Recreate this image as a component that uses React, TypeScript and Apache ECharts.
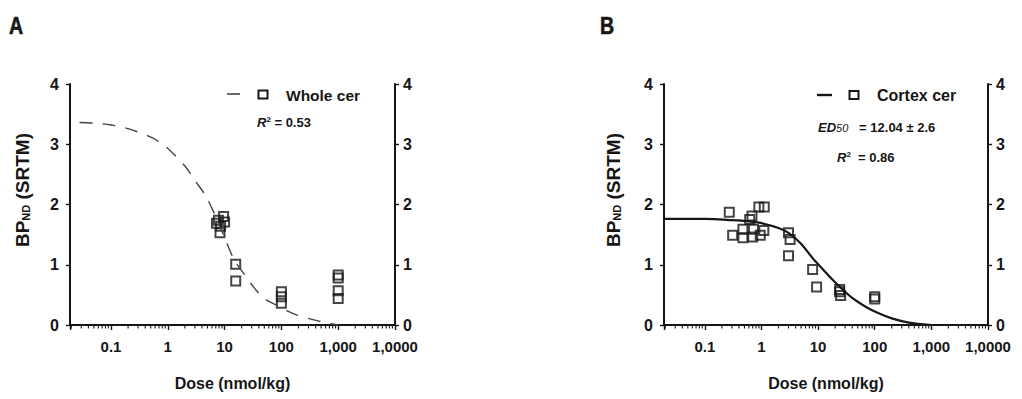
import React, { useEffect, useRef } from "react";
import * as echarts from "echarts";

// ---------- data ----------
const xTickValues = [0.1, 1, 10, 100, 1000, 10000];
const xTickLabels = ["0.1", "1", "10", "100", "1,000", "1,0000"];
const yTickMin = 0;
const yTickMax = 4;

const minorTickDoses = [
  0.02, 0.03, 0.04, 0.05, 0.06, 0.07, 0.08, 0.09,
  0.2, 0.3, 0.4, 0.5, 0.6, 0.7, 0.8, 0.9,
  2, 3, 4, 5, 6, 7, 8, 9,
  20, 30, 40, 50, 60, 70, 80, 90,
  200, 300, 400, 500, 600, 700, 800, 900,
  2000, 3000, 4000, 5000, 6000, 7000, 8000, 9000,
];

// Panel A: Whole cer
const wholeDose = [7.2, 7.8, 8.5, 8.3, 9.6, 10, 15.7, 15.7, 100, 100, 100, 1000, 1000, 1000, 1000];
const wholeBP = [1.69, 1.74, 1.64, 1.53, 1.8, 1.71, 1.01, 0.73, 0.55, 0.47, 0.36, 0.83, 0.78, 0.57, 0.44];
const wholeFitDose = [0.028, 0.05, 0.1, 0.2, 0.55, 1, 2, 3, 4.6, 7, 10, 15, 22, 33, 50, 90, 170, 390, 750, 1000];
const wholeFitBP = [3.36, 3.35, 3.32, 3.26, 3.1, 2.93, 2.64, 2.4, 2.15, 1.8, 1.45, 1.07, 0.85, 0.62, 0.44, 0.31, 0.18, 0.08, 0.02, 0];

// Panel B: Cortex cer
const cortexDose = [0.27, 0.31, 0.47, 0.47, 0.62, 0.68, 0.72, 0.7, 0.9, 1.12, 0.95, 1.1, 3.0, 3.2, 3.0, 8.0, 9.4, 24, 24, 25, 100, 100];
const cortexBP = [1.87, 1.49, 1.59, 1.45, 1.75, 1.81, 1.59, 1.46, 1.96, 1.96, 1.49, 1.57, 1.53, 1.42, 1.15, 0.92, 0.63, 0.59, 0.55, 0.49, 0.47, 0.43];
const cortexFitDose = [0.019, 0.1, 0.3, 0.6, 1, 2, 3, 5, 8, 12, 16, 25, 40, 70, 120, 200, 400, 1000];
const cortexFitBP = [1.76, 1.76, 1.74, 1.72, 1.69, 1.61, 1.53, 1.35, 1.11, 0.93, 0.8, 0.62, 0.45, 0.3, 0.19, 0.11, 0.04, 0];

const xMin = 0.019;
const xMax = 10000;

const FONT = "'Liberation Sans', Arial, Helvetica, sans-serif";
const INK = "#161616";

const zip = (a: number[], b: number[]) => a.map((v, i) => [v, b[i]]);

function xLabel(v: number) {
  const i = xTickValues.findIndex((t) => Math.abs(Math.log10(v) - Math.log10(t)) < 1e-6);
  return i >= 0 ? xTickLabels[i] : "";
}

function makeXAxis(gridIndex: number) {
  return {
    type: "log",
    logBase: 10,
    gridIndex,
    min: xMin,
    max: xMax,
    name: "Dose (nmol/kg)",
    nameLocation: "middle",
    nameGap: 50,
    nameTextStyle: { fontFamily: FONT, fontWeight: "bold", fontSize: 16, color: INK },
    axisLine: { show: true, onZero: false, lineStyle: { color: INK, width: 2 } },
    axisTick: { show: true, inside: false, length: 5, lineStyle: { color: INK, width: 1.4 } },
    axisLabel: {
      show: true,
      margin: 14,
      fontFamily: FONT,
      fontWeight: "bold",
      fontSize: 15,
      color: INK,
      formatter: xLabel,
      showMinLabel: true,
      showMaxLabel: true,
    },
    splitLine: { show: false },
    minorTick: { show: false },
  };
}

function makeYAxis(gridIndex: number, position: "left" | "right") {
  return {
    type: "value",
    gridIndex,
    position,
    min: yTickMin,
    max: yTickMax,
    interval: 1,
    axisLine: { show: true, onZero: false, lineStyle: { color: INK, width: 2 } },
    axisTick: { show: true, inside: false, length: 4, lineStyle: { color: INK, width: 1.4 } },
    axisLabel: {
      show: true,
      margin: position === "left" ? 11 : 8,
      fontFamily: FONT,
      fontWeight: "bold",
      fontSize: 16,
      color: INK,
    },
    splitLine: { show: false },
  };
}

function minorTickSeries(xAxisIndex: number, yAxisIndex: number) {
  return {
    type: "custom",
    xAxisIndex,
    yAxisIndex,
    silent: true,
    clip: false,
    data: minorTickDoses.map((d) => [d, 0]),
    renderItem: (params: any, api: any) => {
      const p = api.coord([api.value(0), api.value(1)]);
      return {
        type: "line",
        shape: { x1: p[0], y1: p[1], x2: p[0], y2: p[1] + 3.5 },
        style: { stroke: INK, lineWidth: 1.1 },
      };
    },
  };
}

const squareStyle = {
  color: "rgba(0,0,0,0)",
  borderColor: INK,
  borderWidth: 2,
};

export default function App() {
  const ref = useRef<HTMLDivElement>(null);

  useEffect(() => {
    if (!ref.current) return;
    const chart = echarts.init(ref.current, null, { renderer: "svg" });

    const yNameRich = {
      a: { fontFamily: FONT, fontWeight: "bold", fontSize: 19, fill: INK },
      s: { fontFamily: FONT, fontWeight: "bold", fontSize: 11, fill: INK, verticalAlign: "bottom" },
    };

    const option: any = {
      animation: false,
      backgroundColor: "#ffffff",
      grid: [
        { left: 70, right: 627, top: 84, bottom: 74, containLabel: false },
        { left: 664, right: 34, top: 84, bottom: 74, containLabel: false },
      ],
      xAxis: [makeXAxis(0), makeXAxis(1)],
      yAxis: [makeYAxis(0, "left"), makeYAxis(0, "right"), makeYAxis(1, "left"), makeYAxis(1, "right")],
      series: [
        {
          name: "Whole cer fit",
          type: "line",
          xAxisIndex: 0,
          yAxisIndex: 0,
          data: zip(wholeFitDose, wholeFitBP),
          smooth: 0.3,
          showSymbol: false,
          symbol: "none",
          silent: true,
          lineStyle: { color: "#444", width: 1.4, type: [13, 10] },
        },
        {
          name: "Whole cer",
          type: "scatter",
          xAxisIndex: 0,
          yAxisIndex: 0,
          symbol: "rect",
          symbolSize: 9,
          data: zip(wholeDose, wholeBP),
          itemStyle: squareStyle,
        },
        minorTickSeries(0, 0),
        {
          name: "Cortex cer fit",
          type: "line",
          xAxisIndex: 1,
          yAxisIndex: 2,
          data: zip(cortexFitDose, cortexFitBP),
          smooth: 0.3,
          showSymbol: false,
          symbol: "none",
          silent: true,
          lineStyle: { color: INK, width: 2.2 },
        },
        {
          name: "Cortex cer",
          type: "scatter",
          xAxisIndex: 1,
          yAxisIndex: 2,
          symbol: "rect",
          symbolSize: 9,
          data: zip(cortexDose, cortexBP),
          itemStyle: squareStyle,
        },
        minorTickSeries(1, 2),
      ],
      graphic: [
        // panel letters
        { type: "text", x: 9, y: 15, scaleX: 0.85, style: { text: "A", fontFamily: FONT, fontWeight: "bold", fontSize: 23, fill: INK, stroke: INK, lineWidth: 0.6 } },
        { type: "text", x: 600, y: 15, scaleX: 0.85, style: { text: "B", fontFamily: FONT, fontWeight: "bold", fontSize: 23, fill: INK, stroke: INK, lineWidth: 0.6 } },
        // y axis names
        {
          type: "text", x: 22, y: 190, rotation: Math.PI / 2,
          style: { text: "{a|BP}{s|ND}{a| (SRTM)}", rich: yNameRich, align: "center", verticalAlign: "middle" },
        },
        {
          type: "text", x: 613, y: 190, rotation: Math.PI / 2,
          style: { text: "{a|BP}{s|ND}{a| (SRTM)}", rich: yNameRich, align: "center", verticalAlign: "middle" },
        },
        // legend A
        { type: "line", shape: { x1: 227, y1: 94, x2: 240, y2: 94 }, style: { stroke: "#444", lineWidth: 1.6 } },
        { type: "rect", shape: { x: 258.5, y: 90.5, width: 9, height: 8 }, style: { fill: "none", stroke: INK, lineWidth: 2 } },
        { type: "text", x: 286, y: 95, style: { text: "Whole cer", fontFamily: FONT, fontWeight: "bold", fontSize: 15.5, fill: INK, verticalAlign: "middle" } },
        {
          type: "text", x: 257, y: 122,
          style: {
            text: "{i|R}{sup|2}{n| = 0.53}",
            verticalAlign: "middle",
            rich: {
              i: { fontFamily: FONT, fontStyle: "italic", fontWeight: "bold", fontSize: 13, fill: INK },
              sup: { fontFamily: FONT, fontWeight: "bold", fontSize: 8, fill: INK, verticalAlign: "top" },
              n: { fontFamily: FONT, fontWeight: "bold", fontSize: 13, fill: INK },
            },
          },
        },
        // legend B
        { type: "line", shape: { x1: 817, y1: 95, x2: 832, y2: 95 }, style: { stroke: INK, lineWidth: 2.4 } },
        { type: "rect", shape: { x: 849.5, y: 91, width: 9, height: 8 }, style: { fill: "none", stroke: INK, lineWidth: 2 } },
        { type: "text", x: 877, y: 95, style: { text: "Cortex cer", fontFamily: FONT, fontWeight: "bold", fontSize: 16, fill: INK, verticalAlign: "middle" } },
        {
          type: "text", x: 818, y: 127,
          style: {
            text: "{i|ED}{j|50}{n|   = 12.04 ± 2.6}",
            verticalAlign: "middle",
            rich: {
              i: { fontFamily: FONT, fontStyle: "italic", fontWeight: "bold", fontSize: 13, fill: INK },
              j: { fontFamily: FONT, fontStyle: "italic", fontSize: 11, fill: INK, verticalAlign: "bottom" },
              n: { fontFamily: FONT, fontWeight: "bold", fontSize: 13, fill: INK },
            },
          },
        },
        {
          type: "text", x: 837, y: 157,
          style: {
            text: "{i|R}{sup|2}{n|  = 0.86}",
            verticalAlign: "middle",
            rich: {
              i: { fontFamily: FONT, fontStyle: "italic", fontWeight: "bold", fontSize: 13, fill: INK },
              sup: { fontFamily: FONT, fontWeight: "bold", fontSize: 8, fill: INK, verticalAlign: "top" },
              n: { fontFamily: FONT, fontWeight: "bold", fontSize: 13, fill: INK },
            },
          },
        },
      ],
    };

    chart.setOption(option);
    return () => chart.dispose();
  }, []);

  return (
    <div
      ref={ref}
      style={{ position: "fixed", left: 0, top: 0, width: 1022, height: 399, background: "#fff" }}
    />
  );
}
